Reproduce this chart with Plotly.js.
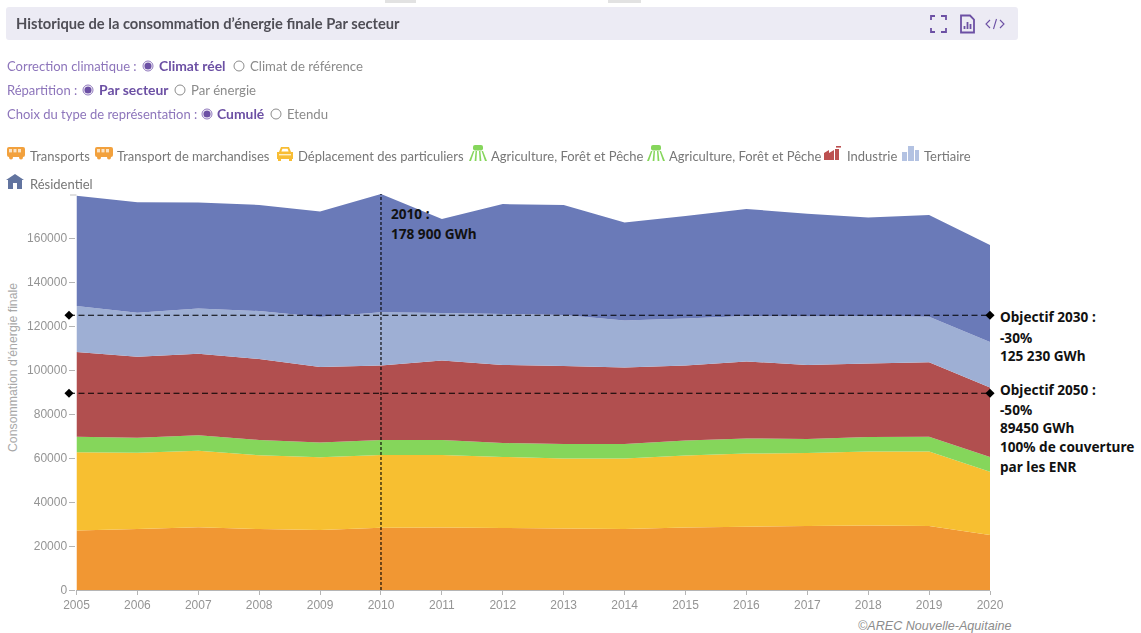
<!DOCTYPE html>
<html lang="fr">
<head>
<meta charset="utf-8">
<title>Historique de la consommation d'énergie finale</title>
<script src="https://cdn.plot.ly/plotly-3.0.1.min.js"></script>
<style>
html,body{margin:0;padding:0;background:#fff;width:1141px;height:633px;overflow:hidden}
#chart{position:absolute;left:0;top:0;width:1141px;height:633px}
#chart .xtick text,#chart .ytick text{filter:blur(.35px)}
.c{position:absolute;font-family:Lato,sans-serif;white-space:nowrap;line-height:16px;filter:blur(.35px)}
.band{left:6px;top:7px;width:1012px;height:33px;background:#ecebf4;border-radius:3px;filter:none}
.patch{top:0;height:3px;background:#e2e2e2;filter:none}
.title{left:16px;top:15px;font-size:14.7px;font-weight:700;color:#4f4e56}
.lab{font-size:13px;color:#8d75bb}
.on{font-size:13.9px;font-weight:700;color:#6c50a4}
.off{font-size:13.2px;color:#8b8b8b}
.leg{font-size:13px;color:#777}
svg.c{overflow:visible}
</style>
</head>
<body>
<div id="chart"></div>
<script>
// ---- data ----
const years = [2005,2006,2007,2008,2009,2010,2011,2012,2013,2014,2015,2016,2017,2018,2019,2020];
const transports   = [27100,27700,28500,27700,27300,28300,28400,28200,28000,27700,28400,28800,29100,29300,29100,25000];
const particuliers = [35500,34700,34800,33500,33000,33100,33000,32300,31800,32100,32700,33200,33200,33700,33800,28800];
const agriculture  = [7100,6800,7000,7000,6800,6800,6800,6300,6600,6600,6900,6900,6300,6500,6800,6700];
const industrie    = [38500,36800,37100,36800,34300,33900,36100,35500,35400,34700,34000,35000,33700,33500,33800,31600];
const tertiaire    = [20900,20000,20500,21800,22700,24200,21600,23200,23200,21400,21400,20600,22000,21500,20700,20600];
const residentiel  = [50100,50200,48200,48200,47900,53700,42700,49900,50000,44500,46600,48700,46700,44800,46300,44100];
const yTicks = [0,20000,40000,60000,80000,100000,120000,140000,160000];
const objectif2030 = 124900;
const objectif2050 = 89450;
const refYear = 2010;
const refTop = 180500;
const objectifStart = 2004.877;

const legendItems = [
  ['Transports','bus','#f2a13d',7,30,156],
  ['Transport de marchandises','bus','#f2a13d',95,117,156],
  ['Déplacement des particuliers','car','#f8bd34',276,298,156],
  ['Agriculture, Forêt et Pêche','agri','#86d65c',469,491,156],
  ['Agriculture, Forêt et Pêche','agri','#86d65c',647,669,156],
  ['Industrie','factory','#bc5050',824,847,156],
  ['Tertiaire','office','#b3c2e2',902,924,156],
  ['Résidentiel','house','#62749f',7,30,184]
];
const noteLines = [
  ['2010 :',390,213],['178 900 GWh',390,233],
  ['Objectif 2030 :',1000,316],['-30%',1000,337],['125 230 GWh',1000,355],
  ['Objectif 2050 :',1000,389],['-50%',1000,409],['89450 GWh',1000,427],
  ['100% de couverture',1000,446],['par les ENR',1000,466]
];

// ---- chart ----
function area(name, y, color){
  return {type:'scatter',mode:'none',name:name,x:years,y:y,stackgroup:'one',fill:'tonexty',
          fillcolor:color,line:{width:0,shape:'linear'},hoverinfo:'skip',showlegend:false};
}
function hline(name, v){
  return {type:'scatter',mode:'lines+markers',name:name,xaxis:'x2',yaxis:'y',
          x:[objectifStart,2020],y:[v,v],cliponaxis:false,
          line:{color:'#000',width:1.1,dash:'6px,3.5px'},marker:{symbol:'diamond',size:7,color:'#000'},
          hoverinfo:'skip',showlegend:false};
}
const traces = [
  area('Transports',transports,'#f19733'),
  area('Déplacement des particuliers',particuliers,'#f7bf31'),
  area('Agriculture, Forêt et Pêche',agriculture,'#85d65b'),
  area('Industrie',industrie,'#b14f4f'),
  area('Tertiaire',tertiaire,'#9eafd4'),
  area('Résidentiel',residentiel,'#6a7ab8'),
  hline('Objectif 2030',objectif2030),
  hline('Objectif 2050',objectif2050),
  {type:'scatter',mode:'lines',name:'2010',x:[refYear,refYear],y:[0,refTop],cliponaxis:false,
   line:{color:'#000',width:1.1,dash:'3px,2px'},hoverinfo:'skip',showlegend:false}
];
const L0=60,L=76.5,R=990.5,T=194,B=590;
const pxPerYear=(R-L)/15;
const px = x => (x-L0)/(R-L0), py = y => (B-y)/(B-T);
const layout = {
  width:1141,height:633,autosize:false,showlegend:false,hovermode:false,
  paper_bgcolor:'#fff',plot_bgcolor:'rgba(0,0,0,0)',
  margin:{l:L0,r:1141-R,t:T,b:633-B,pad:0},
  font:{family:'"Liberation Sans",Arial,sans-serif',size:12,color:'#9a9a9a'},
  xaxis:{domain:[px(L),1],range:[2005,2020],tickmode:'array',tickvals:years,ticktext:years.map(String),
         showgrid:false,zeroline:false,showline:true,linecolor:'#b5b5b5',linewidth:1,
         ticks:'outside',ticklen:4,tickcolor:'#b5b5b5',tickfont:{size:12,color:'#949494'}},
  xaxis2:{domain:[0,1],anchor:'y',visible:false,
          range:[2005-(L-L0)/pxPerYear,2020]},
  yaxis:{range:[0,180000],tickmode:'array',tickvals:yTicks,ticktext:yTicks.map(String),
         showgrid:false,zeroline:false,showline:false,
         ticks:'outside',ticklen:6,tickcolor:'#b5b5b5',tickfont:{size:12,color:'#949494'}},
  shapes:[{type:'line',xref:'paper',yref:'paper',x0:px(70),x1:px(L),y0:py(195),y1:py(195),
           line:{color:'#c0c0c0',width:1}}],
  annotations:noteLines.map(n=>({text:n[0],xref:'paper',yref:'paper',x:px(n[1]),y:py(n[2]),
      xanchor:'left',yanchor:'middle',showarrow:false,borderpad:0,
      font:{family:'"Noto Sans",sans-serif',size:13.6,color:'#111',weight:700}}))
   .concat([{text:"Consommation d'énergie finale",xref:'paper',yref:'paper',x:px(13),y:py(368),
      xanchor:'center',yanchor:'middle',textangle:-90,showarrow:false,borderpad:0,
      font:{family:'"Liberation Sans",sans-serif',size:12.3,color:'#a8a8a8'}},
     {text:'<i>©AREC Nouvelle-Aquitaine</i>',xref:'paper',yref:'paper',x:px(1013),y:py(626),
      xanchor:'right',yanchor:'middle',showarrow:false,borderpad:0,
      font:{family:'"Liberation Sans",sans-serif',size:12.6,color:'#8c8c8c'}}])
};
Plotly.newPlot('chart',traces,layout,{displayModeBar:false,staticPlot:true});

// ---- page chrome around the chart ----
const icons = {
  bus:c=>`<rect x="0" y="1" width="18" height="10" rx="2" fill="${c}"/><rect x="2" y="3" width="3" height="3.4" fill="#fbe3c4"/><rect x="6.5" y="3" width="3" height="3.4" fill="#fbe3c4"/><rect x="11" y="3" width="3" height="3.4" fill="#fbe3c4"/><circle cx="4" cy="11.5" r="2" fill="${c}"/><circle cx="14" cy="11.5" r="2" fill="${c}"/>`,
  car:c=>`<path d="M3 6 L5 1 H13 L15 6 H17 V13 H1 V6 Z" fill="${c}"/><path d="M5.4 5.6 L6.4 2.8 H11.6 L12.6 5.6 Z" fill="#fff"/><rect x="2" y="13" width="3" height="2" fill="${c}"/><rect x="13" y="13" width="3" height="2" fill="${c}"/><rect x="3" y="8" width="12" height="1.4" fill="#fdeec6"/>`,
  agri:c=>`<rect x="4" y="-1" width="10" height="5.5" rx="2" fill="${c}"/><path d="M8 5 L7.4 15 H5.6 L6.6 5 Z M10 5 L10.6 15 H12.4 L11.4 5 Z M4 5 L0 15 H2 L5.4 5 Z M14 5 L18 15 H16 L12.6 5 Z" fill="${c}"/>`,
  factory:c=>`<path d="M0 14 V7 L5 4 V7 L10 4 V14 Z" fill="${c}"/><rect x="11" y="3" width="4" height="11" fill="${c}"/><rect x="12" y="0" width="5" height="1.6" fill="${c}"/>`,
  office:c=>`<rect x="0" y="6" width="5" height="9" fill="${c}"/><rect x="6" y="0" width="6" height="15" fill="${c}"/><rect x="13" y="4" width="4" height="11" fill="${c}"/>`,
  house:c=>`<path d="M8 0 L17 6 H15 V15 H10 V9 H6 V15 H1 V6 H-1 Z" fill="${c}"/>`
};
function add(html){document.body.insertAdjacentHTML('beforeend',html);}
function text(cls,x,yc,s){add(`<div class="c ${cls}" style="left:${x}px;top:${yc-8}px">${s}</div>`);}
function radio(cx,cy,on){
  add(`<svg class="c" width="12" height="12" style="left:${cx-6}px;top:${cy-6}px"><circle cx="6" cy="6" r="5" fill="#fff" stroke="${on?'#8d75bb':'#8b8b8b'}" stroke-width="1"/>${on?'<circle cx="6" cy="6" r="3.6" fill="#6c50a4"/>':''}</svg>`);
}
add('<div class="c band"></div>');
add('<div class="c patch" style="left:385px;width:31px"></div><div class="c patch" style="left:608px;width:33px"></div>');
add('<div class="c title">Historique de la consommation d’énergie finale Par secteur</div>');
text('lab',7,66,'Correction climatique :');radio(148,66,true);text('on',159,66,'Climat réel');radio(239,66,false);text('off',250,66,'Climat de référence');
text('lab',7,90,'Répartition :');radio(88,90,true);text('on',99,90,'Par secteur');radio(180,90,false);text('off',191,90,'Par énergie');
text('lab',7,114,'Choix du type de représentation :');radio(207,114,true);text('on',217,114,'Cumulé');radio(276,114,false);text('off',287,114,'Etendu');
legendItems.forEach(it=>{
  add(`<svg class="c" width="18" height="16" style="left:${it[3]}px;top:${it[5]-10}px">${icons[it[1]](it[2])}</svg>`);
  text('leg',it[4],it[5],it[0]);
});
const pu='#6c50a4';
add(`<svg class="c" width="80" height="20" style="left:928px;top:14px" fill="none" stroke="${pu}" stroke-width="1.8">
<path d="M3 6 V2 H7 M13 2 H18 V6 M18 14 V18 H13 M7 18 H3 V14"/>
<path d="M33 1.5 H42 L46 5.5 V18.5 H33 Z"/><path d="M36.5 15 V12 M39.5 15 V8 M42.5 15 V10"/>
<path d="M62 6 L58 10 L62 14 M72 6 L76 10 L72 14 M68.5 5 L65.5 15" stroke-width="1.1"/></svg>`);
</script>
</body>
</html>
